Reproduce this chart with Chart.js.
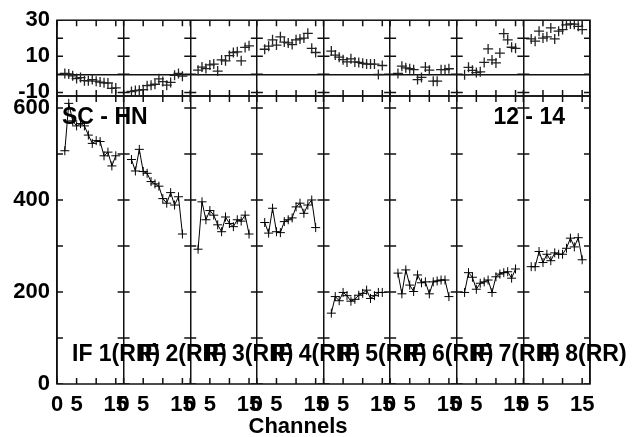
<!DOCTYPE html>
<html>
<head>
<meta charset="utf-8">
<script src="https://cdn.jsdelivr.net/npm/chart.js@4.4.1/dist/chart.umd.min.js"></script>
<style>
  html, body { margin: 0; padding: 0; background: #fff; }
  #wrap { position: relative; width: 634px; height: 437px; }
  #wrap canvas { position: absolute; left: 0; top: 0; }
</style>
</head>
<body>
<div id="wrap">
  <canvas id="resid" width="634" height="437"></canvas>
  <canvas id="main" width="634" height="437"></canvas>
</div>
<script>
'use strict';
/*------------------------------------*\
     Data
\*------------------------------------*/
var channels = [2, 3, 4, 5, 6, 7, 8, 9, 10, 11, 12, 13, 14, 15];
var ifLabels = ['IF 1(RR)', 'IF 2(RR)', 'IF 3(RR)', 'IF 4(RR)', 'IF 5(RR)', 'IF 6(RR)', 'IF 7(RR)', 'IF 8(RR)'];

var fluxIF1 = [507, 610, 572, 561, 566, 561, 541, 523, 529, 527, 496, 504, 474, 496];
var fluxIF2 = [488, 463, 510, 462, 458, 440, 435, 430, 403, 393, 416, 389, 407, 326];
var fluxIF3 = [293, 396, 357, 377, 367, 346, 331, 363, 349, 342, 357, 354, 367, 326];
var fluxIF4 = [351, 328, 382, 331, 329, 353, 357, 361, 385, 393, 371, 389, 400, 340];
var fluxIF5 = [154, 190, 181, 199, 192, 180, 184, 193, 197, 204, 186, 192, 199, 199];
var fluxIF6 = [241, 196, 248, 215, 201, 237, 220, 222, 196, 222, 224, 226, 226, 190];
var fluxIF7 = [199, 242, 232, 206, 219, 222, 226, 199, 233, 239, 242, 244, 230, 250];
var fluxIF8 = [255, 255, 288, 264, 282, 268, 285, 282, 282, 295, 317, 298, 318, 270];

var residIF1 = [0.5, 0.2, -0.8, -2.3, -1.8, -3.5, -3.6, -2.9, -3.8, -4.3, -4.7, -4.8, -7.8, -7.5];
var residIF2 = [-9.5, -9.0, -8.8, -8.5, -6.3, -6.0, -5.5, -2.5, -4.0, -6.0, -4.5, -0.5, 0.5, -1.0];
var residIF3 = [2.3, 4.0, 3.2, 5.2, 5.7, 1.8, 8.0, 7.5, 10.4, 12.1, 12.5, 7.5, 14.9, 15.8];
var residIF4 = [13.9, 15.6, 19.1, 16.2, 20.8, 17.9, 17.4, 16.5, 19.1, 19.6, 20.1, 22.7, 14.4, 12.1];
var residIF5 = [12.9, 10.7, 9.5, 8.1, 6.9, 8.6, 6.9, 6.6, 6.1, 5.7, 5.7, 5.7, -0.1, 4.9];
var residIF6 = [0.5, 4.5, 3.6, 3.1, 2.6, -2.9, -1.7, 4.0, 2.3, -3.8, -3.8, 2.6, 2.6, 3.1];
var residIF7 = [-0.2, 3.9, 2.2, 1.0, 1.4, 6.6, 14.1, 8.0, 6.3, 11.8, 22.6, 19.1, 15.0, 14.4];
var residIF8 = [19.6, 18.4, 23.9, 20.1, 20.8, 25.7, 19.6, 23.9, 24.8, 27.4, 27.9, 27.8, 26.6, 24.8];

var fluxTicks = [0, 100, 200, 300, 400, 500, 600];
var fluxLabels = [0, 200, 400, 600];
var residTicks = [-10, 0, 10, 20, 30];
var residLabels = [-10, 10, 30];
var channelTicks = [0, 5, 10, 15];
var channelLabels = [0, 5, 15];

var sourceName = 'SC - HN';
var dateName = '12 - 14';
var axisTitle = 'Channels';

var fluxData = [fluxIF1, fluxIF2, fluxIF3, fluxIF4, fluxIF5, fluxIF6, fluxIF7, fluxIF8];
var residData = [residIF1, residIF2, residIF3, residIF4, residIF5, residIF6, residIF7, residIF8];

/*------------------------------------*\
     Settings
\*------------------------------------*/
var panelWidth = 17;            // channels per IF panel
var nPanels = ifLabels.length;
var FONT = "'Liberation Sans', Arial, Helvetica, sans-serif";

Chart.defaults.font.family = FONT;
Chart.defaults.color = '#000';

function panelSeries(values) {
  return channels.map(function(c, j) { return {x: c, y: values[j]}; });
}

// each IF panel is shifted by panelWidth channels on one long x scale
function shiftedSeries(values, p) {
  return panelSeries(values).map(function(pt) { return {x: p * panelWidth + pt.x, y: pt.y}; });
}

function channelScale(showLabels) {
  return {
    type: 'linear',
    min: 0,
    max: nPanels * panelWidth,
    afterBuildTicks: function(scale) {
      var t = [];
      for (var p = 0; p < nPanels; p++) {
        channelTicks.forEach(function(c) { t.push({value: p * panelWidth + c}); });
      }
      t.push({value: nPanels * panelWidth});
      scale.ticks = t;
    },
    afterFit: function(scale) { scale.height = showLabels ? 53 : 0; },
    ticks: {
      display: showLabels,
      autoSkip: false,
      maxRotation: 0,
      padding: 8,
      color: '#000',
      font: {size: 22, weight: 'bold'},
      callback: function(v) {
        if (v >= nPanels * panelWidth) return '';
        var c = v % panelWidth;
        return channelLabels.indexOf(c) >= 0 ? String(c) : '';
      }
    },
    grid: {
      drawTicks: false,
      lineWidth: 1.5,
      color: function(ctx) {
        return ctx.tick && ctx.tick.value % panelWidth === 0 ? '#111' : 'rgba(0,0,0,0)';
      }
    },
    border: {display: false}
  };
}

function valueScale(min, max, tickList, labelList) {
  return {
    min: min,
    max: max,
    afterBuildTicks: function(scale) {
      scale.ticks = tickList.map(function(v) { return {value: v}; });
    },
    afterFit: function(scale) { scale.width = 57; },
    ticks: {
      autoSkip: false,
      padding: 7,
      color: '#000',
      font: {size: 22, weight: 'bold'},
      callback: function(v) { return labelList.indexOf(v) >= 0 ? String(v) : ''; }
    },
    grid: {
      drawTicks: false,
      lineWidth: 1.5,
      color: function(ctx) {
        return ctx.tick && ctx.tick.value === 0 && min < 0 ? '#111' : 'rgba(0,0,0,0)';
      }
    },
    border: {display: false}
  };
}

/*------------------------------------*\
     Frame and inward tick marks
\*------------------------------------*/
var panelMarks = {
  id: 'panelMarks',
  afterDatasetsDraw: function(chart, args, opts) {
    var xs = chart.scales.x, ys = chart.scales.y, a = chart.chartArea, ctx = chart.ctx;
    ctx.save();
    ctx.strokeStyle = '#111';
    ctx.lineWidth = 1.5;
    ctx.strokeRect(a.left, a.top, a.right - a.left, a.bottom - a.top);
    ctx.beginPath();
    ctx.rect(a.left, a.top, a.right - a.left, a.bottom - a.top);
    ctx.clip();
    ctx.beginPath();
    for (var p = 0; p <= nPanels; p++) {
      var px = xs.getPixelForValue(p * panelWidth);
      opts.yTicks.forEach(function(v) {
        var py = ys.getPixelForValue(v);
        ctx.moveTo(px - 6, py);
        ctx.lineTo(px + 6, py);
      });
    }
    for (var q = 0; q < nPanels; q++) {
      channelTicks.forEach(function(c) {
        var tx = xs.getPixelForValue(q * panelWidth + c);
        ctx.moveTo(tx, a.bottom);
        ctx.lineTo(tx, a.bottom - 6);
        ctx.moveTo(tx, a.top);
        ctx.lineTo(tx, a.top + 6);
      });
    }
    ctx.stroke();
    ctx.restore();
  }
};

var panelTexts = {
  id: 'panelTexts',
  afterDraw: function(chart) {
    var xs = chart.scales.x, a = chart.chartArea, ctx = chart.ctx;
    ctx.save();
    ctx.fillStyle = '#000';
    ctx.font = 'bold 23px ' + FONT;
    ctx.textBaseline = 'middle';
    ctx.textAlign = 'left';
    ctx.fillText(sourceName, a.left + 5, a.top + 22);
    ctx.textAlign = 'right';
    ctx.fillText(dateName, a.right - 25, a.top + 22);
    ctx.textAlign = 'left';
    ifLabels.forEach(function(lab, p) {
      ctx.fillText(lab, xs.getPixelForValue(p * panelWidth) + 15, 355);
    });
    ctx.font = 'bold 22px ' + FONT;
    ctx.textAlign = 'center';
    ctx.fillText(axisTitle, 298, 427);
    ctx.restore();
  }
};

/*------------------------------------*\
     Residuals (top strip)
\*------------------------------------*/
var residSets = residData.map(function(vals, p) {
  return {
    label: ifLabels[p],
    data: shiftedSeries(vals, p),
    showLine: false,
    pointStyle: 'cross',
    pointRadius: 5,
    pointBorderWidth: 1.3,
    pointBorderColor: '#222',
    borderColor: '#222'
  };
});

new Chart(document.getElementById('resid'), {
  type: 'scatter',
  data: {datasets: residSets},
  options: {
    responsive: false,
    animation: false,
    events: [],
    layout: {padding: {top: 15, left: 0, right: 44, bottom: 341}},
    plugins: {legend: {display: false}, tooltip: {enabled: false}, panelMarks: {yTicks: residTicks}},
    scales: {
      x: channelScale(false),
      y: valueScale(-12, 30, residTicks, residLabels)
    }
  },
  plugins: [panelMarks]
});

/*------------------------------------*\
     Flux per IF (main plot)
\*------------------------------------*/
var fluxSets = fluxData.map(function(vals, p) {
  return {
    label: ifLabels[p],
    data: shiftedSeries(vals, p),
    showLine: true,
    borderColor: '#000',
    borderWidth: 1,
    pointStyle: 'cross',
    pointRadius: 4.5,
    pointBorderWidth: 1,
    pointBorderColor: '#000'
  };
});

new Chart(document.getElementById('main'), {
  type: 'scatter',
  data: {datasets: fluxSets},
  options: {
    responsive: false,
    animation: false,
    events: [],
    layout: {padding: {top: 96, left: 0, right: 44, bottom: 0}},
    plugins: {legend: {display: false}, tooltip: {enabled: false}, panelMarks: {yTicks: fluxTicks}},
    scales: {
      x: channelScale(true),
      y: valueScale(0, 626, fluxTicks, fluxLabels)
    }
  },
  plugins: [panelMarks, panelTexts]
});
</script>
</body>
</html>
